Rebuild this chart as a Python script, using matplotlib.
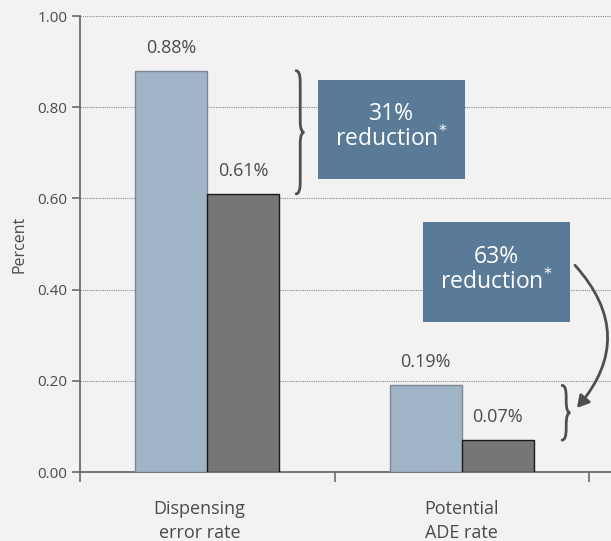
import matplotlib.pyplot as plt
from matplotlib.patches import Rectangle, FancyArrowPatch, PathPatch
from matplotlib.path import Path
import matplotlib.ticker as ticker

categories = ['Dispensing\nerror rate', 'Potential\nADE rate']
before = [0.88, 0.19]
after = [0.61, 0.07]
reductions = ['31%\nreduction$^{*}$', '63%\nreduction$^{*}$']

plt.rcParams['font.family'] = ['Open Sans', 'DejaVu Sans']

BG = '#f2f2f2'
TXT = '#4a4a4a'
AX = '#6b6b6b'
LIGHT = '#a0b4c8'
DARK = '#767676'
BOX = '#5a7b98'


def brace(ax, x0, y0, y1, w=0.032, r=0.025):
    # curly brace "}" spanning y0..y1, tip pointing right
    xm = x0 + w / 2
    ym = (y0 + y1) / 2
    verts = [(x0, y1), (xm, y1), (xm, y1 - r),
             (xm, ym + r),
             (xm, ym), (x0 + w, ym),
             (xm, ym), (xm, ym - r),
             (xm, y0 + r),
             (xm, y0), (x0, y0)]
    codes = [Path.MOVETO, Path.CURVE3, Path.CURVE3,
             Path.LINETO,
             Path.CURVE3, Path.CURVE3,
             Path.CURVE3, Path.CURVE3,
             Path.LINETO,
             Path.CURVE3, Path.CURVE3]
    ax.add_patch(PathPatch(Path(verts, codes), fill=False, ec='#4f4f4f',
                           lw=2, capstyle='round', zorder=4))


fig = plt.figure(figsize=(6.11, 5.41), dpi=100, facecolor=BG)
ax = fig.add_axes([0.131, 0.1275, 0.869, 0.8429], facecolor=BG)

x = range(len(categories))
w = 0.283
ax.bar(x, before, width=-w, align='edge', color=LIGHT, edgecolor='#7d8793', lw=1, zorder=3)
ax.bar(x, after, width=w, align='edge', color=DARK, edgecolor='#1a1a1a', lw=1, zorder=3)

for off, vals in ((-w / 2, before), (w / 2, after)):
    for xi, v in zip(x, vals):
        ax.annotate(f'{v:.2f}%', (xi + off, v), xytext=(0, 10), textcoords='offset points',
                    ha='center', va='bottom', fontsize=13, color=TXT)

ax.set_xlim(-0.5, 1.586)
ax.set_ylim(0, 1.0)
ax.yaxis.set_major_locator(ticker.MultipleLocator(0.2))
ax.yaxis.set_major_formatter(ticker.FormatStrFormatter('%.2f'))
# first category label sits slightly left of its group
ax.set_xticks([-0.03, 1])
ax.set_xticklabels(categories, fontsize=13, color=TXT, linespacing=1.45)
ax.set_xticks([-0.5, 0.5, 1.5], minor=True)
ax.tick_params(axis='x', which='major', length=0, pad=20)
ax.tick_params(axis='x', which='minor', length=7, width=1.2, color=AX)
ax.tick_params(axis='y', length=6, width=1.2, color=AX, labelsize=11, labelcolor=TXT, pad=3)
ax.set_ylabel('Percent', fontsize=11.5, color=TXT, labelpad=7)

ax.grid(axis='y', color='#8a8a8a', lw=0.8, ls=(0, (1, 1)), zorder=0)
for s in ('top', 'right'):
    ax.spines[s].set_visible(False)
for s in ('left', 'bottom'):
    ax.spines[s].set_color(AX)
    ax.spines[s].set_linewidth(1.3)

# reduction callouts
boxes = [(0.435, 0.6425, 0.5776, 0.2175), (0.8477, 0.329, 0.5776, 0.219)]
for (bx, by, bw, bh), label in zip(boxes, reductions):
    ax.add_patch(Rectangle((bx, by), bw, bh, fc=BOX, ec='none', zorder=5))
    ax.text(bx + bw / 2, by + bh / 2 + 0.005, label, ha='center', va='center',
            fontsize=16.5, color='white', linespacing=1.05, zorder=6)

brace(ax, 0.349, after[0], before[0])
brace(ax, 1.394, after[1], before[1])

arrow = FancyArrowPatch((1.437, 0.458), (1.445, 0.136),
                        connectionstyle='arc3,rad=-0.45',
                        arrowstyle='-|>,head_length=7,head_width=4',
                        color='#4f4f4f', lw=2, zorder=6)
ax.add_patch(arrow)

fig.savefig('out.png', dpi=100, facecolor=BG)
